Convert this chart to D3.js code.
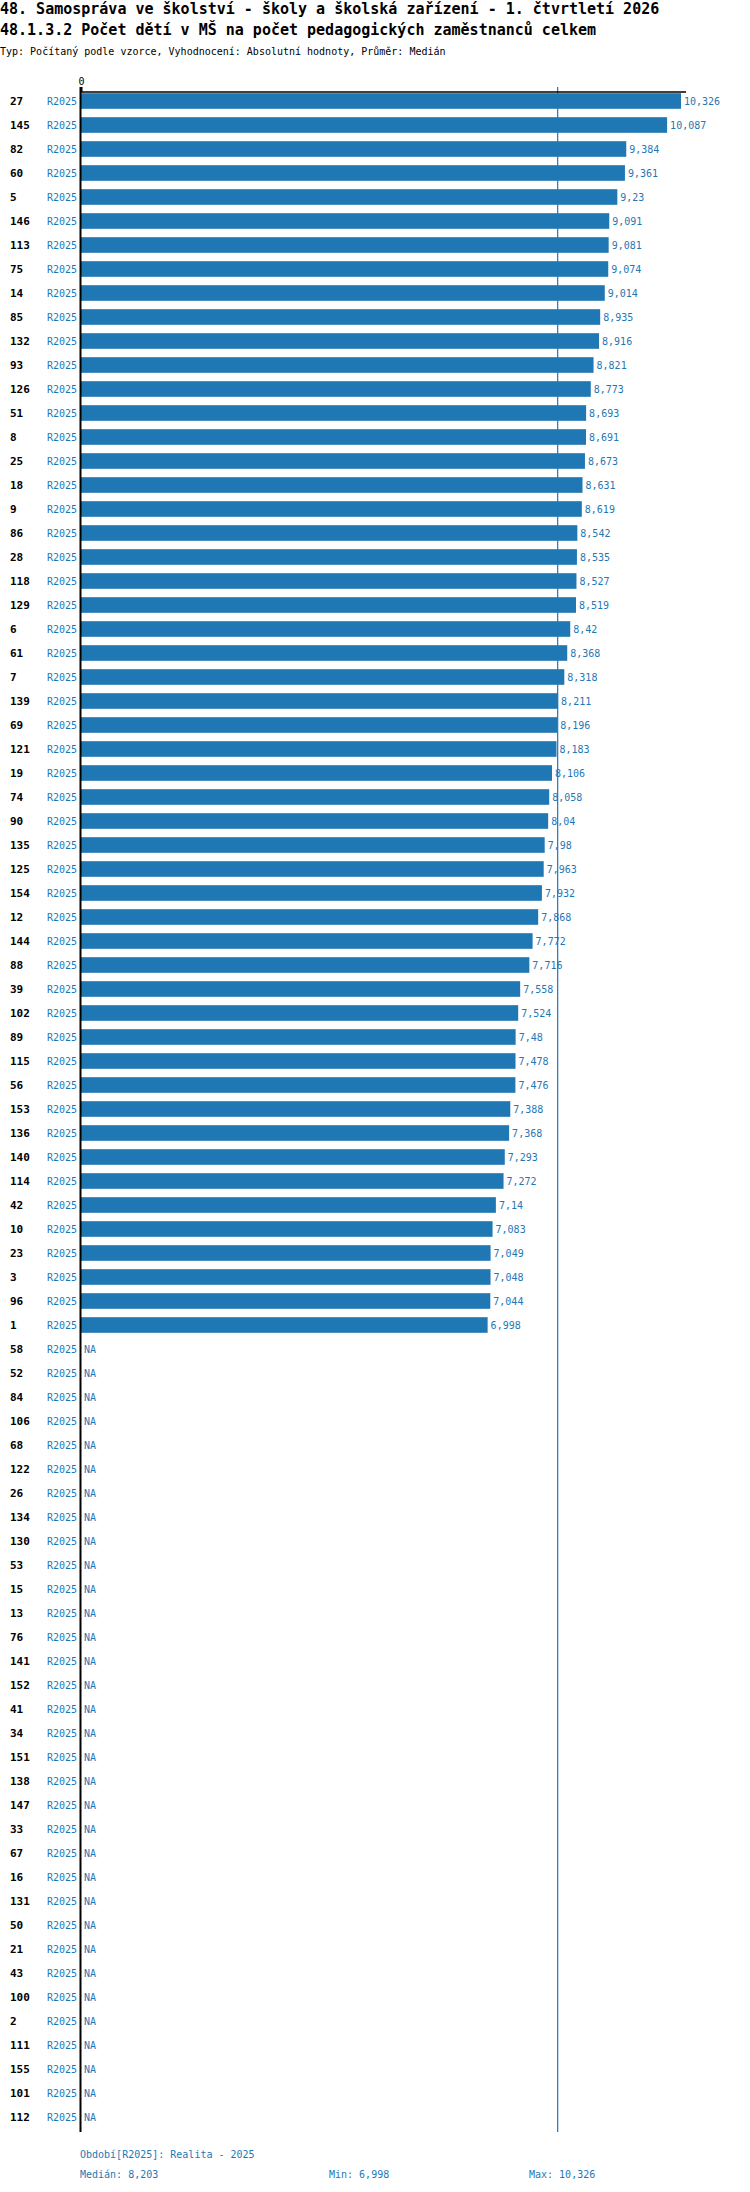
<!DOCTYPE html>
<meta charset="utf-8">
<style>
html, body {
  margin: 0;
  background: #fff;
}
svg text {
  font-family: "DejaVu Sans Mono", "Liberation Mono", monospace;
}
</style>
<title>48.1.3.2 Počet dětí v MŠ na počet pedagogických zaměstnanců celkem</title>
<body>
<script src="https://cdn.jsdelivr.net/npm/d3@7"></script>
<script>
var titles = [
  "48. Samospráva ve školství - školy a školská zařízení - 1. čtvrtletí 2026",
  "48.1.3.2 Počet dětí v MŠ na počet pedagogických zaměstnanců celkem"
];
var subtitle = "Typ: Počítaný podle vzorce, Vyhodnocení: Absolutní hodnoty, Průměr: Medián";
var period = "R2025";
var periodNote = "Období[R2025]: Realita - 2025";

// obce (kódy) v pořadí jak jsou v grafu
var categories = [
  "27","145","82","60","5","146","113","75","14","85",
  "132","93","126","51","8","25","18","9","86","28",
  "118","129","6","61","7","139","69","121","19","74",
  "90","135","125","154","12","144","88","39","102","89",
  "115","56","153","136","140","114","42","10","23","3",
  "96","1",
  "58","52","84","106","68","122","26","134","130","53",
  "15","13","76","141","152","41","34","151","138","147",
  "33","67","16","131","50","21","43","100","2","111",
  "155","101","112"
];
// hodnoty, null = NA
var values = [
  10.326,10.087,9.384,9.361,9.23,9.091,9.081,9.074,9.014,8.935,
  8.916,8.821,8.773,8.693,8.691,8.673,8.631,8.619,8.542,8.535,
  8.527,8.519,8.42,8.368,8.318,8.211,8.196,8.183,8.106,8.058,
  8.04,7.98,7.963,7.932,7.868,7.772,7.716,7.558,7.524,7.48,
  7.478,7.476,7.388,7.368,7.293,7.272,7.14,7.083,7.049,7.048,
  7.044,6.998,
  null,null,null,null,null,null,null,null,null,null,
  null,null,null,null,null,null,null,null,null,null,
  null,null,null,null,null,null,null,null,null,null,
  null,null,null
];

var width = 750,
    height = 2192,
    blue = "#1f77b4";

var cz = d3.formatLocale({decimal: ",", thousands: " ", grouping: [3], currency: ["", " Kč"]});
var fmt = cz.format(".3~f");

var data = categories.map(function(c, i) { return {cat: c, val: values[i]}; });
var valid = values.filter(function(v) { return v != null; });
var med = d3.median(valid),
    min = d3.min(valid),
    max = d3.max(valid);

var svg = d3.select("body").append("svg")
    .attr("width", width)
    .attr("height", height);

// nadpisy
svg.selectAll(".title").data(titles).enter().append("text")
    .attr("x", 0)
    .attr("y", function(d, i) { return 14 + i * 21; })
    .attr("font-size", "15px")
    .attr("font-weight", "bold")
    .text(function(d) { return d; });

svg.append("text")
    .attr("x", 0)
    .attr("y", 55)
    .attr("font-size", "10px")
    .text(subtitle);

var x = d3.scaleLinear()
    .domain([0, max])
    .range([81, 681]);

var y = d3.scaleBand()
    .domain(categories)
    .range([89, 2129])
    .paddingInner(0.35)
    .paddingOuter(0.175);

var axisY = 92, bottomY = 2132;

// median line (za sloupci)
svg.append("line")
    .attr("x1", x(med)).attr("x2", x(med))
    .attr("y1", 87).attr("y2", bottomY)
    .attr("stroke", blue)
    .attr("stroke-width", 1.2);

// top axis
var axis = d3.axisTop(x).tickValues([0]).tickSize(5).tickSizeOuter(0);
var gAxis = svg.append("g")
    .attr("transform", "translate(0," + axisY + ")")
    .call(axis);
gAxis.select(".domain").remove();
gAxis.selectAll(".tick line").attr("stroke", "#000").attr("stroke-width", 2);
gAxis.selectAll(".tick text")
    .attr("font-family", "DejaVu Sans Mono, monospace")
    .attr("font-size", "10px")
    .attr("fill", "#000")
    .attr("dy", "0.1em");

svg.append("line")
    .attr("x1", x(0)).attr("x2", x(max) + 5)
    .attr("y1", axisY).attr("y2", axisY)
    .attr("stroke", "#000")
    .attr("stroke-width", 1.5);

// bars
svg.selectAll(".bar").data(data.filter(function(d) { return d.val != null; }))
  .enter().append("rect")
    .attr("class", "bar")
    .attr("x", x(0))
    .attr("y", function(d) { return y(d.cat); })
    .attr("width", function(d) { return x(d.val) - x(0); })
    .attr("height", y.bandwidth())
    .attr("fill", blue);

// zero line
svg.append("line")
    .attr("x1", x(0) - 0.5).attr("x2", x(0) - 0.5)
    .attr("y1", 87).attr("y2", bottomY)
    .attr("stroke", "#000")
    .attr("stroke-width", 2);

var rows = svg.selectAll(".row").data(data).enter().append("g")
    .attr("class", "row")
    .attr("transform", function(d) { return "translate(0," + (y(d.cat) + y.bandwidth() / 2) + ")"; });

rows.append("text")
    .attr("x", 10)
    .attr("dy", "0.35em")
    .attr("font-size", "11px")
    .attr("font-weight", "bold")
    .text(function(d) { return d.cat; });

rows.append("text")
    .attr("x", 77)
    .attr("dy", "0.35em")
    .attr("text-anchor", "end")
    .attr("font-size", "10px")
    .attr("fill", blue)
    .text(period);

rows.append("text")
    .attr("x", function(d) { return d.val != null ? x(d.val) + 3 : x(0) + 3; })
    .attr("dy", "0.35em")
    .attr("font-size", "10px")
    .attr("fill", blue)
    .text(function(d) { return d.val != null ? fmt(d.val) : "NA"; });

// footer (medián se v originále ořezává, ne zaokrouhluje)
svg.append("text")
    .attr("x", 80).attr("y", 2158)
    .attr("font-size", "10px")
    .attr("fill", blue)
    .text(periodNote);

var stats = [
  {x: 80, t: "Medián: " + fmt(Math.floor(med * 1000) / 1000)},
  {x: 329, t: "Min: " + fmt(min)},
  {x: 529, t: "Max: " + fmt(max)}
];
svg.selectAll(".stat").data(stats).enter().append("text")
    .attr("x", function(d) { return d.x; })
    .attr("y", 2178)
    .attr("font-size", "10px")
    .attr("fill", blue)
    .text(function(d) { return d.t; });
</script>
</body>
